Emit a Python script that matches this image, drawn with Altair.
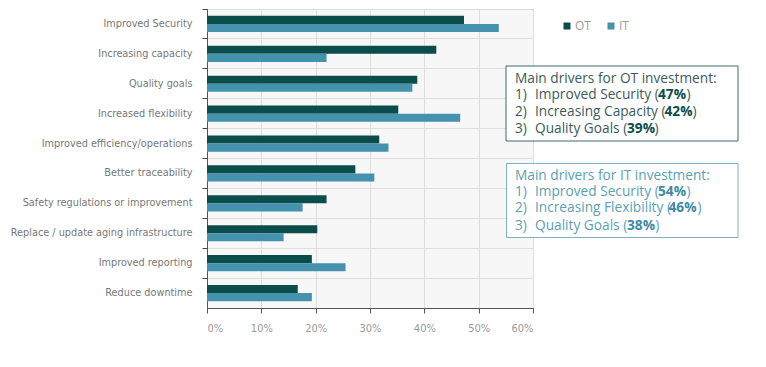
import altair as alt
import pandas as pd

categories = [
    "Improved Security",
    "Increasing capacity",
    "Quality goals",
    "Increased flexibility",
    "Improved efficiency/operations",
    "Better traceability",
    "Safety regulations or improvement",
    "Replace / update aging infrastructure",
    "Improved reporting",
    "Reduce downtime",
]
series = ["OT", "IT"]
ot_values = [47.3, 42.2, 38.7, 35.2, 31.7, 27.3, 22.0, 20.3, 19.3, 16.7]
it_values = [53.7, 22.0, 37.8, 46.6, 33.4, 30.8, 17.6, 14.1, 25.5, 19.3]
x_ticks = [0, 0.1, 0.2, 0.3, 0.4, 0.5, 0.6]

rows = []
for c, o, i in zip(categories, ot_values, it_values):
    rows.append({"category": c, "series": "OT", "value": o / 100})
    rows.append({"category": c, "series": "IT", "value": i / 100})
df = pd.DataFrame(rows)

OT_COLOR = "#0b4d4a"
IT_COLOR = "#4592ae"
LABEL_FONT = "'DejaVu Sans Condensed', 'Roboto Condensed', 'Open Sans Condensed', Roboto"
BOX_FONT = "Open Sans"

bars = alt.Chart(df).mark_bar().encode(
    y=alt.Y(
        "category:N",
        sort=categories,
        scale=alt.Scale(paddingInner=0, paddingOuter=0),
        axis=alt.Axis(
            title=None,
            bandPosition=0,
            tickSize=5,
            tickColor="#444",
            domainColor="#555",
            grid=True,
            gridColor="#dedede",
            labelColor="#777",
            labelFont=LABEL_FONT,
            labelFontSize=10.8,
            labelPadding=10,
            labelLimit=400,
        ),
    ),
    yOffset=alt.YOffset(
        "series:N",
        sort=series,
        scale=alt.Scale(domain=series, paddingInner=0, paddingOuter=0.85),
    ),
    x=alt.X(
        "value:Q",
        scale=alt.Scale(domain=[0, 0.6]),
        axis=alt.Axis(
            title=None,
            format=".0%",
            values=x_ticks,
            tickSize=5,
            tickColor="#555",
            domainColor="#555",
            gridColor="#dedede",
            labelColor="#999",
            labelFont=LABEL_FONT,
            labelFontSize=11,
            labelPadding=9,
        ),
    ),
    color=alt.Color(
        "series:N",
        sort=series,
        scale=alt.Scale(domain=series, range=[OT_COLOR, IT_COLOR]),
        legend=alt.Legend(
            title=None,
            orient="none",
            legendX=354,
            legendY=11,
            direction="horizontal",
            symbolType="square",
            symbolSize=49,
            symbolStrokeWidth=0,
            labelFont=BOX_FONT,
            labelFontSize=12,
            labelColor="#999",
            labelOffset=2,
            columnPadding=14,
        ),
    ),
)

one = pd.DataFrame({"k": [0]})


def box(x1, x2, y1, y2, stroke):
    return alt.Chart(one).mark_rect(fill="white", stroke=stroke, strokeWidth=1).encode(
        x=alt.value(x1), x2=alt.value(x2), y=alt.value(y1), y2=alt.value(y2)
    )


def txt(s, x, y, color, bold=False):
    return alt.Chart(one).mark_text(
        align="left", baseline="middle", font=BOX_FONT, fontSize=13.7,
        fontWeight="bold" if bold else "normal", color=color,
    ).encode(x=alt.value(x), y=alt.value(y), text=alt.value(s))


OT_TXT = "#3c5a5a"
OT_NUM = "#0b4d4a"
OT_BOX = "#3f6a6a"
IT_TXT = "#5b9fb4"
IT_NUM = "#3e8aa6"
IT_BOX = "#7db4c4"


def line(num, body, bold, bx, px, y, tc, nc):
    return [
        txt(num, 308, y, tc),
        txt(body, 328, y, tc),
        txt(bold, bx, y, nc, True),
        txt(")", px, y, tc),
    ]


layers = [bars]
layers.append(box(299, 531, 57, 132, OT_BOX))
layers.append(txt("Main drivers for OT investment:", 308, 70, OT_TXT))
layers += line("1)", "Improved Security (", "47%", 451, 479.5, 86, OT_TXT, OT_NUM)
layers += line("2)", "Increasing Capacity (", "42%", 457.5, 485.5, 102.7, OT_TXT, OT_NUM)
layers += line("3)", "Quality Goals (", "39%", 420, 447.5, 120, OT_TXT, OT_NUM)
layers.append(box(299.5, 531, 154.5, 228.5, IT_BOX))
layers.append(txt("Main drivers for IT investment:", 308, 166.7, IT_TXT))
layers += line("1)", "Improved Security (", "54%", 451, 479.5, 182.7, IT_TXT, IT_NUM)
layers += line("2)", "Increasing Flexibility (", "46%", 461.5, 490.5, 199.3, IT_TXT, IT_NUM)
layers += line("3)", "Quality Goals (", "38%", 420, 448.2, 216.7, IT_TXT, IT_NUM)

chart = alt.layer(*layers).properties(
    width=326,
    height=299,
    autosize=alt.AutoSizeParams(type="none"),
    padding={"left": 199, "top": 1, "right": 220, "bottom": 45},
    background="white",
).configure_view(
    stroke="#555", strokeWidth=1, fill="#f7f7f7"
)

chart.save("out.html", embed_options={"renderer": "svg", "actions": False})
